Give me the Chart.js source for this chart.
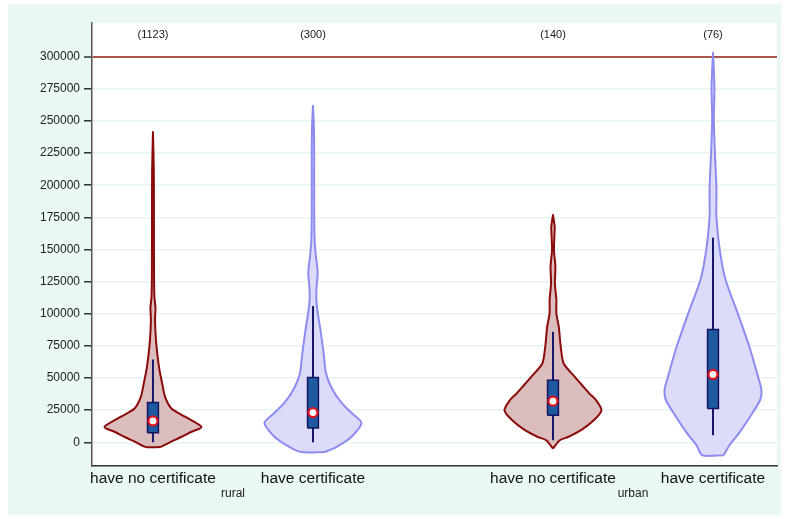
<!DOCTYPE html>
<html>
<head>
<meta charset="utf-8">
<style>
  html, body { margin: 0; padding: 0; background: #ffffff; }
  #wrap { width: 785px; height: 519px; }
</style>
<script src="https://cdn.jsdelivr.net/npm/chart.js@4.4.1/dist/chart.umd.min.js"></script>
</head>
<body>
<div id="wrap"><canvas id="chart" width="785" height="519"></canvas></div>
<script>
// ---- data -------------------------------------------------------------
const groups = ['rural', 'urban'];
const certificates = ['have no certificate', 'have certificate'];
const counts = [1123, 300, 140, 76];
const yTicks = [0, 25000, 50000, 75000, 100000, 125000, 150000, 175000,
                200000, 225000, 250000, 275000, 300000];
const referenceLine = 300000;

// kernel density profiles (value level, relative density; widest = 1)
const ruralNoCertLevels  = [-3700, 200, 4100, 8000, 11900, 19700, 26300, 35300, 45700, 56100,
                            66500, 79500, 95100, 104400, 113000, 130000, 170000, 210000, 241500];
const ruralNoCertDensity = [0.15, 0.36, 0.58, 0.78, 1.0, 0.67, 0.38, 0.25, 0.19, 0.135,
                            0.097, 0.062, 0.042, 0.052, 0.03, 0.022, 0.02, 0.018, 0.0];

const ruralCertLevels  = [-7600, -3700, 4100, 15000, 22400, 30200, 40500, 53500, 69100, 87300,
                          100300, 110700, 120000, 132000, 145000, 156000, 180000, 220000, 245000, 261800];
const ruralCertDensity = [0.24, 0.48, 0.79, 1.0, 0.81, 0.6, 0.41, 0.27, 0.22, 0.155,
                          0.1, 0.07, 0.072, 0.097, 0.06, 0.035, 0.025, 0.025, 0.02, 0.0];

const urbanNoCertLevels  = [-4900, 1600, 4100, 9400, 17100, 24900, 32700, 38000, 44400, 50900,
                            61300, 74300, 89800, 100300, 110700, 123700, 136600, 149600, 161300, 167800, 176900];
const urbanNoCertDensity = [0.0, 0.14, 0.31, 0.58, 0.84, 1.0, 0.89, 0.75, 0.6, 0.45,
                            0.22, 0.16, 0.12, 0.07, 0.07, 0.04, 0.05, 0.02, 0.03, 0.035, 0.0];

const urbanCertLevels  = [-10100, -2300, 6800, 19700, 32700, 40500, 50900, 74300, 100300, 126200,
                          149600, 175600, 188600, 199000, 225000, 251000, 276900, 303000];
const urbanCertDensity = [0.22, 0.34, 0.53, 0.76, 0.97, 1.0, 0.93, 0.75, 0.51, 0.26,
                          0.14, 0.07, 0.07, 0.07, 0.04, 0.017, 0.03, 0.0];

// box plot summaries
const boxQ1       = [7500, 11100, 21000, 26300];
const boxMedian   = [16600, 23100, 32000, 52800];
const boxQ3       = [30900, 50400, 48300, 87800];
const whiskerLow  = [0, 0, 1600, 5500];
const whiskerHigh = [64400, 106000, 86000, 159200];

// ---- layout / style ---------------------------------------------------
const FONT = "'Liberation Sans', Arial, sans-serif";
const VIOLIN_HALF = 0.303;   // half width of the widest violin, in slot units
const BOX_HALF = 0.034;
const X_MIN = 0.619, X_MAX = 4.9;
const Y_MIN = -18450, Y_MAX = 326240;

const profiles = [
  [ruralNoCertLevels, ruralNoCertDensity],
  [ruralCertLevels, ruralCertDensity],
  [urbanNoCertLevels, urbanNoCertDensity],
  [urbanCertLevels, urbanCertDensity]
];
const violinStroke = ['#8b0a0a', '#8c8cf0'];
const violinFill   = ['#dcbdbd', '#dcdcfa'];

// slot positions: one per certificate status, with half a slot between groups
const slots = [];
const slotLabels = [];
groups.forEach((g, gi) => certificates.forEach((c, ci) => {
  slots.push(1 + gi * 2.5 + ci);
  slotLabels.push(c);
}));
const groupSlots = groups.map((g, gi) => 1.5 + gi * 2.5);

function violinOutline(center, levels, density) {
  const right = levels.map((v, i) => ({ x: center + density[i] * VIOLIN_HALF, y: v }));
  const left = levels.map((v, i) => ({ x: center - density[i] * VIOLIN_HALF, y: v })).reverse();
  return right.concat(left, [right[0]]);
}

const datasets = [];
slots.forEach((s, i) => {
  const [levels, density] = profiles[i];
  const ci = i % certificates.length;
  datasets.push({
    data: violinOutline(s, levels, density),
    borderColor: violinStroke[ci], backgroundColor: violinFill[ci],
    borderWidth: 2, fill: 'shape', pointRadius: 0, tension: 0.25,
    borderJoinStyle: 'round', order: 4
  });
  datasets.push({
    data: [{ x: s, y: whiskerLow[i] }, { x: s, y: whiskerHigh[i] }],
    borderColor: '#16166a', borderWidth: 2, fill: false, pointRadius: 0, order: 3
  });
  datasets.push({
    data: [
      { x: s - BOX_HALF, y: boxQ1[i] }, { x: s + BOX_HALF, y: boxQ1[i] },
      { x: s + BOX_HALF, y: boxQ3[i] }, { x: s - BOX_HALF, y: boxQ3[i] },
      { x: s - BOX_HALF, y: boxQ1[i] }
    ],
    borderColor: '#14145e', backgroundColor: '#1e5aa0',
    borderWidth: 1.5, fill: 'shape', pointRadius: 0, order: 2
  });
});
datasets.push({
  data: slots.map((s, i) => ({ x: s, y: boxMedian[i] })),
  showLine: false, fill: false,
  pointRadius: 4.5, pointBorderWidth: 2.2,
  pointBackgroundColor: '#ffffff', pointBorderColor: '#e3101a', order: 1
});

// page backdrop, plot region and the observation counts over each violin
const backdrop = {
  id: 'backdrop',
  beforeDraw(chart) {
    const { ctx, chartArea: a } = chart;
    ctx.save();
    ctx.fillStyle = '#ffffff';
    ctx.fillRect(0, 0, chart.width, chart.height);
    ctx.fillStyle = '#eaf8f4';
    ctx.fillRect(8, 4, 773, 511);
    ctx.fillStyle = '#ffffff';
    ctx.fillRect(a.left, a.top, a.right - a.left, a.bottom - a.top);
    ctx.restore();
  },
  afterDatasetsDraw(chart) {
    const { ctx, chartArea: a } = chart;
    const xs = chart.scales.x;
    ctx.save();
    ctx.fillStyle = '#1a1a1a';
    ctx.font = '11px ' + FONT;
    ctx.textAlign = 'center';
    ctx.textBaseline = 'middle';
    slots.forEach((s, i) => {
      ctx.fillText('(' + counts[i] + ')', xs.getPixelForValue(s), a.top + 12);
    });
    ctx.restore();
  }
};

new Chart(document.getElementById('chart').getContext('2d'), {
  type: 'line',
  data: { datasets },
  options: {
    responsive: false,
    animation: false,
    devicePixelRatio: 1,
    layout: { padding: { left: 0, right: 8, top: 23, bottom: 19 } },
    plugins: { legend: { display: false }, tooltip: { enabled: false } },
    elements: { line: { tension: 0 }, point: { radius: 0 } },
    scales: {
      x: {
        type: 'linear', position: 'bottom', weight: 0,
        min: X_MIN, max: X_MAX,
        afterBuildTicks: s => { s.ticks = slots.map(v => ({ value: v })); },
        afterFit: s => { s.height = 20; },
        ticks: {
          autoSkip: false, maxRotation: 0, padding: 3.5, color: '#111111',
          font: { family: FONT, size: 15.5 },
          callback: (v, i) => slotLabels[i]
        },
        grid: { display: false, drawTicks: false },
        border: { display: true, color: '#333333', width: 1.5 }
      },
      xg: {
        type: 'linear', position: 'bottom', weight: 1,
        min: X_MIN, max: X_MAX,
        afterBuildTicks: s => { s.ticks = groupSlots.map(v => ({ value: v })); },
        afterFit: s => { s.height = 14; },
        ticks: {
          autoSkip: false, maxRotation: 0, padding: 0, color: '#222222',
          font: { family: FONT, size: 12 },
          callback: (v, i) => groups[i]
        },
        grid: { display: false, drawTicks: false },
        border: { display: false }
      },
      y: {
        type: 'linear', position: 'left',
        min: Y_MIN, max: Y_MAX,
        afterBuildTicks: s => { s.ticks = yTicks.map(v => ({ value: v })); },
        afterFit: s => { s.width = 92; },
        ticks: {
          padding: 4, color: '#222222',
          font: { family: FONT, size: 12 },
          callback: v => String(v)
        },
        grid: {
          color: c => (c.tick && c.tick.value === referenceLine) ? '#a8584a' : '#e6f5ef',
          lineWidth: c => (c.tick && c.tick.value === referenceLine) ? 2 : 1.5,
          drawTicks: true, tickLength: 8, tickColor: '#333333', tickWidth: 1.5
        },
        border: { display: true, color: '#555555', width: 1.5 }
      }
    }
  },
  plugins: [backdrop]
});
</script>
</body>
</html>
